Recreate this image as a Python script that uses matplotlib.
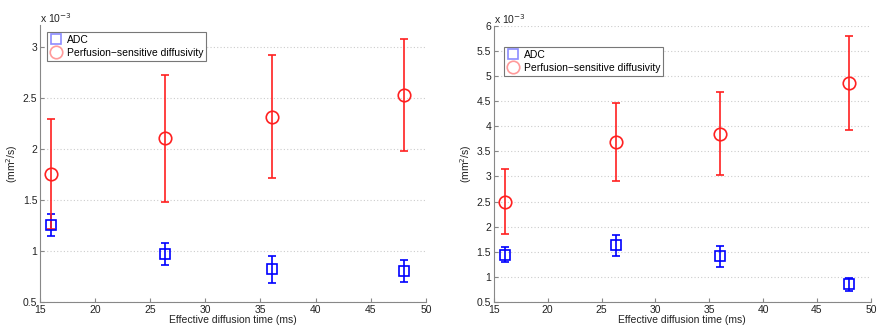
import matplotlib
matplotlib.use("Agg")
import matplotlib.pyplot as plt

plt.rcParams["font.family"] = ["Liberation Sans", "DejaVu Sans"]
plt.rcParams["font.size"] = 7.5

# effective diffusion time (ms)
diff_time = [16, 26.3, 36, 48]

# left panel (values x 1e-3 mm^2/s)
adc_l = [1.255, 0.97, 0.82, 0.80]
adc_l_lo = [1.147, 0.86, 0.69, 0.70]
adc_l_hi = [1.366, 1.08, 0.95, 0.91]
psd_l = [1.76, 2.105, 2.317, 2.53]
psd_l_lo = [1.22, 1.477, 1.716, 1.98]
psd_l_hi = [2.30, 2.73, 2.925, 3.08]

# right panel
adc_r = [1.44, 1.63, 1.42, 0.85]
adc_r_lo = [1.30, 1.41, 1.20, 0.72]
adc_r_hi = [1.60, 1.84, 1.62, 0.98]
psd_r = [2.49, 3.69, 3.85, 4.86]
psd_r_lo = [1.85, 2.92, 3.02, 3.93]
psd_r_hi = [3.15, 4.47, 4.68, 5.80]

xticks = [15, 20, 25, 30, 35, 40, 45, 50]


def panel(ax, adc, adc_lo, adc_hi, psd, psd_lo, psd_hi, ylim, yticks, ylabels, leg_pos):
    ax.errorbar(diff_time, adc,
                yerr=[[a - l for a, l in zip(adc, adc_lo)], [h - a for a, h in zip(adc, adc_hi)]],
                fmt="s", color="#0000ff", mfc="none", ms=7, mew=1.2, elinewidth=1.2,
                capsize=3, capthick=1.2, label="ADC", zorder=3)
    ax.errorbar(diff_time, psd,
                yerr=[[p - l for p, l in zip(psd, psd_lo)], [h - p for p, h in zip(psd, psd_hi)]],
                fmt="o", color="#ff2020", mfc="none", ms=9, mew=1.2, elinewidth=1.2,
                capsize=3, capthick=1.2, label="Perfusion\u2212sensitive diffusivity", zorder=3)
    ax.set_xlim(15, 50)
    ax.set_ylim(*ylim)
    ax.set_xticks(xticks)
    ax.set_yticks(yticks)
    ax.set_yticklabels(ylabels)
    ax.grid(axis="y", color="#cccccc", ls=(0, (1, 2)), lw=0.8)
    ax.set_axisbelow(True)
    for s in ["top", "right"]:
        ax.spines[s].set_visible(False)
    for s in ["left", "bottom"]:
        ax.spines[s].set_color("#888888")
        ax.spines[s].set_linewidth(0.8)
    ax.tick_params(direction="in", length=3, color="#888888", labelcolor="#222222", pad=2)
    ax.set_xlabel("Effective diffusion time (ms)", labelpad=0, color="#222222")
    ax.set_ylabel("(mm$^2$/s)", labelpad=2, color="#222222")
    ax.text(0, 1.0, "x 10$^{-3}$", transform=ax.transAxes, fontsize=7.5, color="#222222",
            ha="left", va="bottom")
    handles, labels = ax.get_legend_handles_labels()
    handles = [h[0] for h in handles]
    leg = ax.legend(handles, labels, loc="upper left", bbox_to_anchor=leg_pos,
                    fancybox=False, framealpha=1, edgecolor="#777777", borderpad=0.3,
                    handletextpad=0.4, handlelength=1.2, labelspacing=0.25, fontsize=7.5,
                    borderaxespad=0)
    leg.get_frame().set_linewidth(0.8)
    for h in leg.legend_handles:
        h.set_alpha(0.45)
        h.set_linestyle("none")


fig = plt.figure(figsize=(8.85, 3.26), dpi=100)
ax1 = fig.add_axes([0.0452, 0.0736, 0.436, 0.85])
ax2 = fig.add_axes([0.558, 0.0736, 0.426, 0.847])

panel(ax1, adc_l, adc_l_lo, adc_l_hi, psd_l, psd_l_lo, psd_l_hi,
      (0.5, 3.22), [0.5, 1, 1.5, 2, 2.5, 3], ["0.5", "1", "1.5", "2", "2.5", "3"],
      (0.018, 0.975))
panel(ax2, adc_r, adc_r_lo, adc_r_hi, psd_r, psd_r_lo, psd_r_hi,
      (0.5, 6), [0.5, 1, 1.5, 2, 2.5, 3, 3.5, 4, 4.5, 5, 5.5, 6],
      ["0.5", "1", "1.5", "2", "2.5", "3", "3.5", "4", "4.5", "5", "5.5", "6"],
      (0.027, 0.924))

fig.savefig("out.png", dpi=100)
